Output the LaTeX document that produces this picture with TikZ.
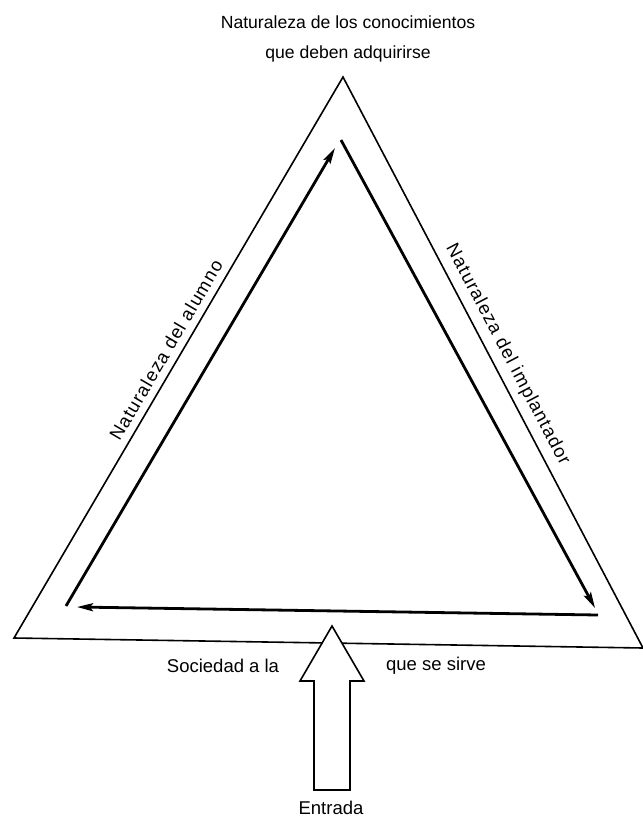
\documentclass[tikz,border=0pt]{standalone}
\usepackage{fontspec}
\setmainfont{Liberation Sans}
\usetikzlibrary{arrows.meta}

\begin{document}
\begin{tikzpicture}[
  x=1pt, y=-1pt,
  lbl/.style={font=\fontsize{18.5}{30}\selectfont, inner sep=2pt},
  side/.style={lbl, font=\fontsize{18.5}{30}\selectfont\addfontfeature{LetterSpace=6}},
  outer/.style={line width=1.6pt, line join=miter},
  flow/.style={line width=2.8pt, -{Stealth[length=16pt, width=8pt, inset=3pt]}},
  bigarrow/.style={draw, fill=white, line width=1.6pt, line join=miter}
]
\useasboundingbox (0,0) rectangle (643,820);

% corners of the outer triangle
\coordinate (top) at (343,77);
\coordinate (bl) at (14,638);
\coordinate (br) at (643,648);

% corners of the inner cycle
\coordinate (il) at (66,606);
\coordinate (ilt) at (335,148);
\coordinate (irt) at (341,140);
\coordinate (ir) at (595,608);
\coordinate (ibr) at (598,615);
\coordinate (ibl) at (77,607);

% outer triangle with side labels
\draw[outer] (top)
  -- node[side, sloped, above=5pt, pos=0.50] (implantador) {Naturaleza del implantador} (br)
  -- (bl)
  -- node[side, sloped, above=5pt, pos=0.50] (alumno) {Naturaleza del alumno} cycle;

% inner cycle
\draw[flow] (il) -- (ilt);
\draw[flow] (irt) -- (ir);
\draw[flow] (ibr) -- (ibl);

% input
\coordinate (in) at (332,626);
\draw[bigarrow] (in) -- (364,681) -- (350,681) -- (350,790) -- (314,790) -- (314,681) -- (300,681) -- cycle;

% labels
\node[lbl, font=\fontsize{17.6}{30}\selectfont, align=center] (saber) at (348,39) {Naturaleza de los conocimientos\\que deben adquirirse};
\node[lbl] (sociedad) at (223,666) {Sociedad a la};
\node[lbl] (sirve) at (436,666) {que se sirve};
\node[lbl] (entrada) at (331,808) {Entrada};
\end{tikzpicture}
\end{document}
